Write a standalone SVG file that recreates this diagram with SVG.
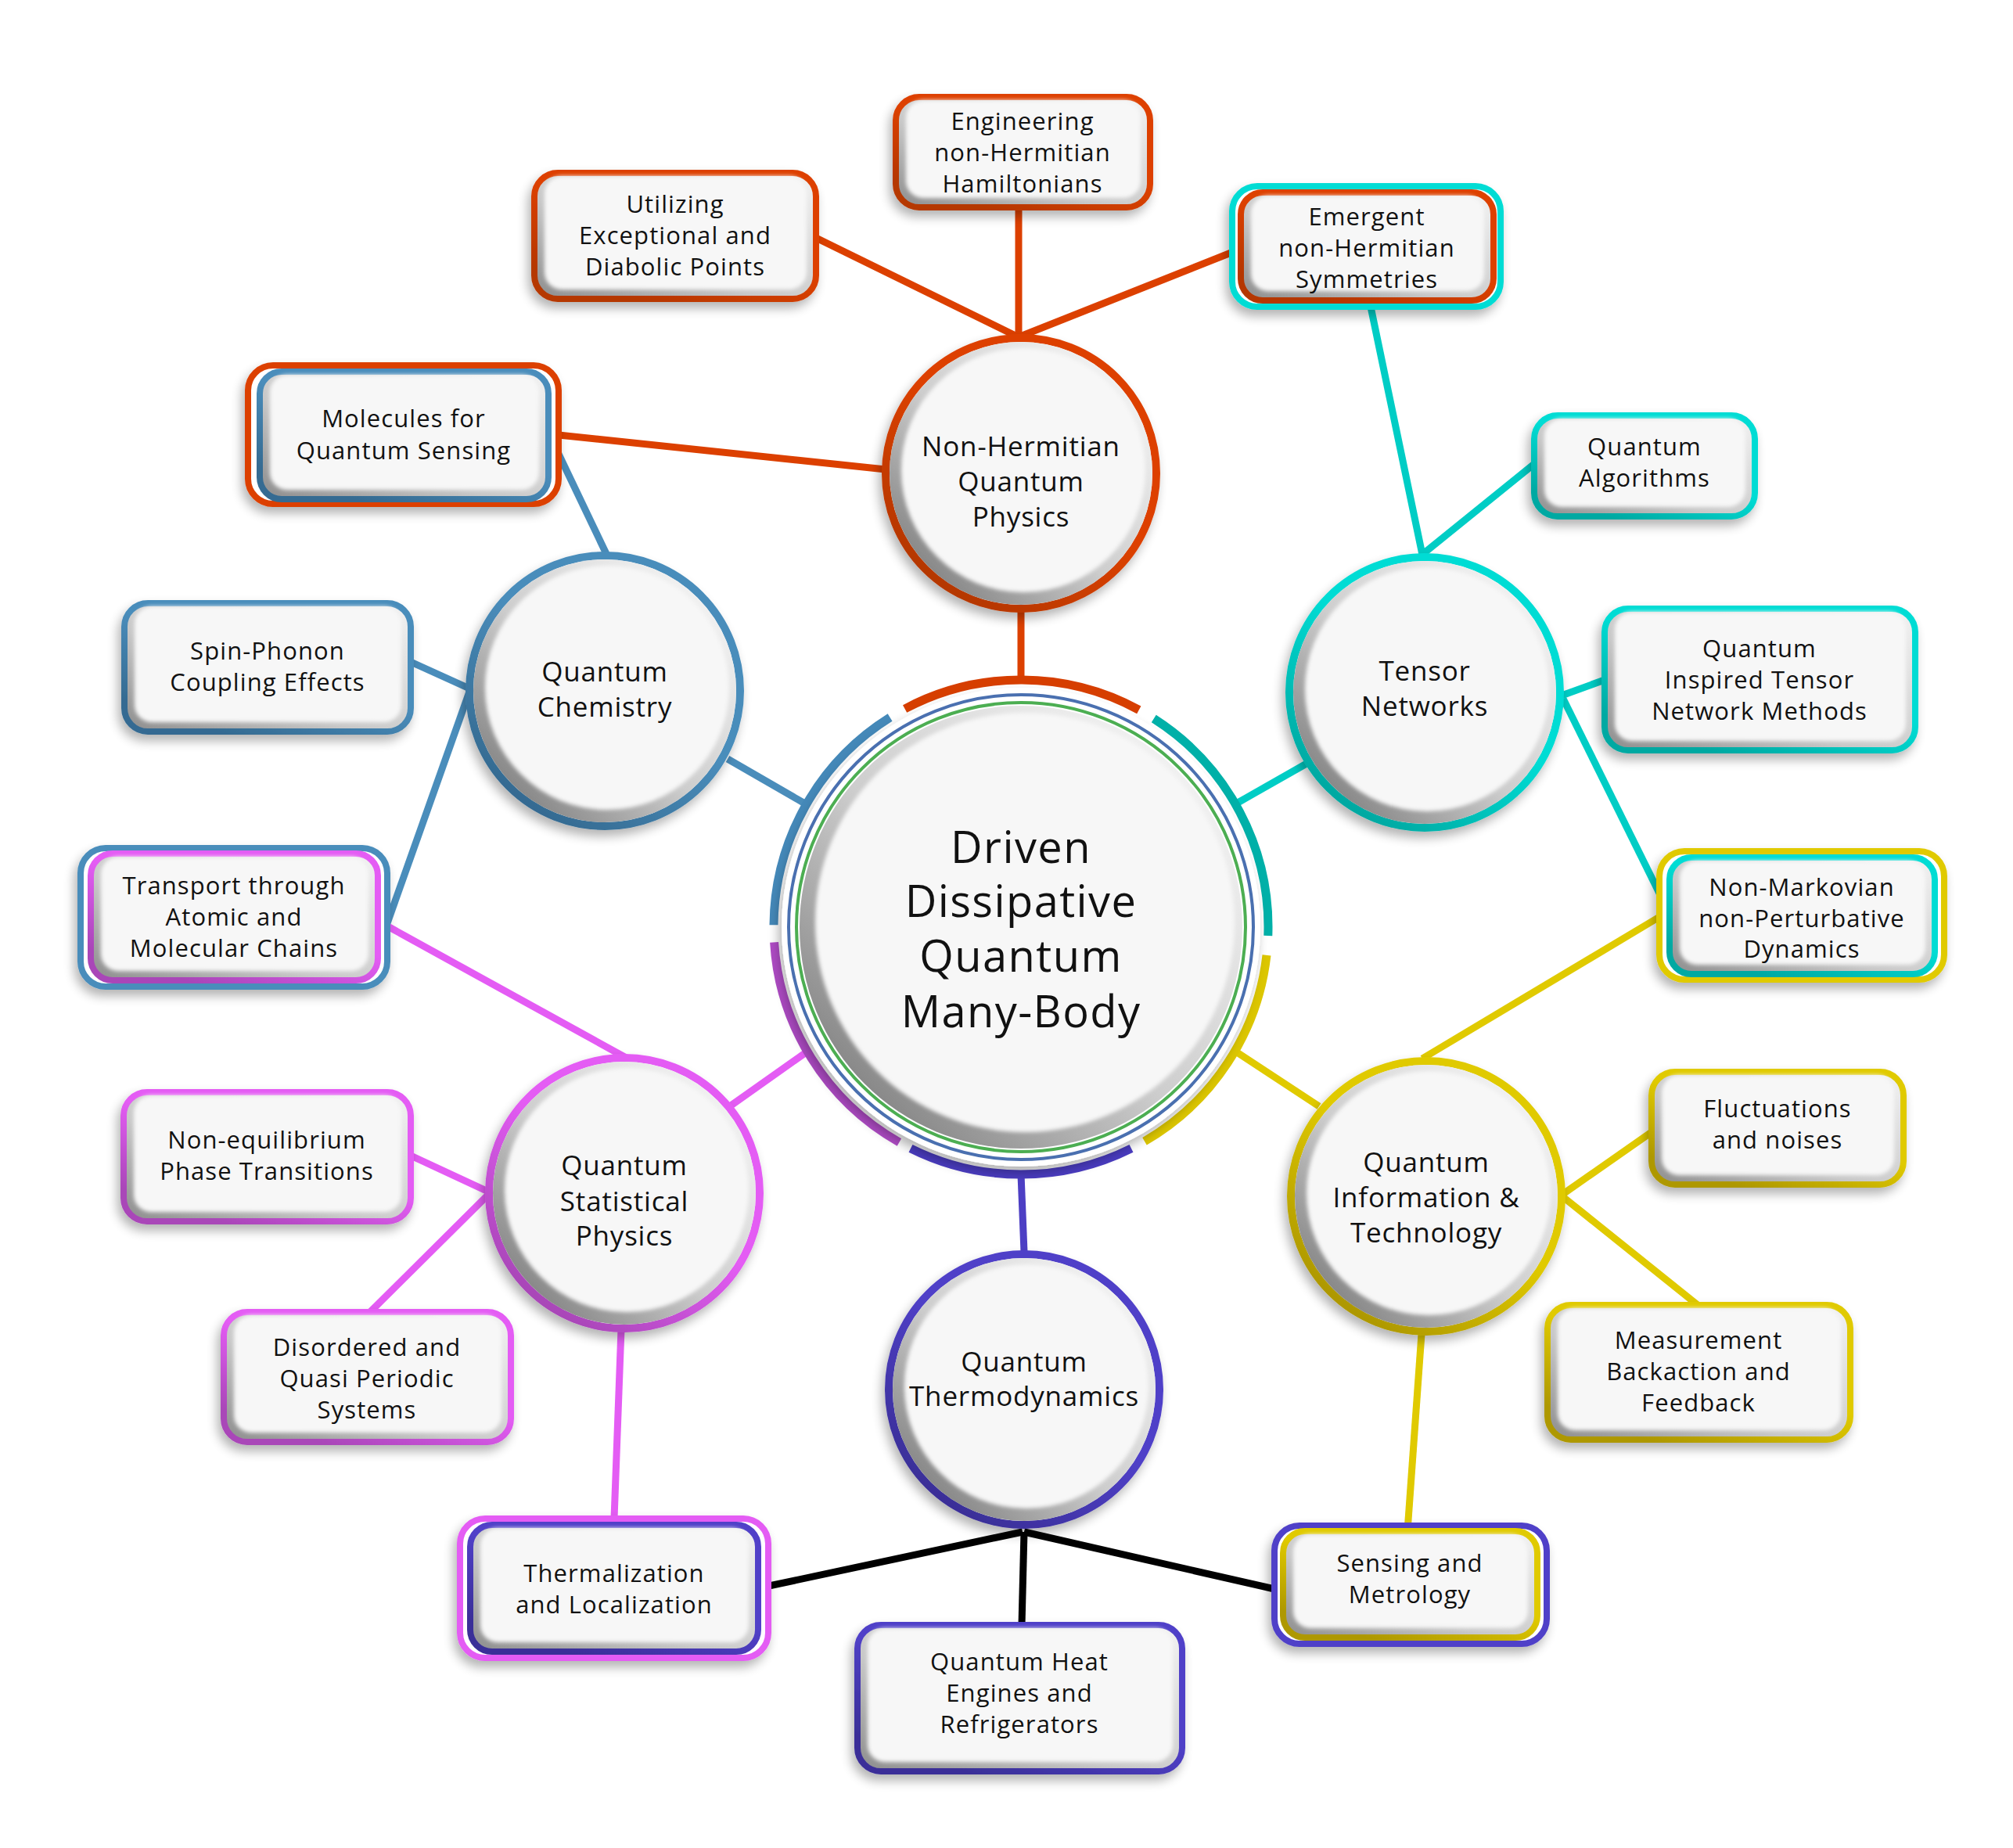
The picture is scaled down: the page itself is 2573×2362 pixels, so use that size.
<svg xmlns="http://www.w3.org/2000/svg" width="2573" height="2362" viewBox="0 0 2573 2362">
<defs>
<style>
.lbl{font-family:"Open Sans","Liberation Sans",sans-serif;font-size:31px;text-anchor:middle;fill:#111;letter-spacing:1.1px}
.clbl{font-size:35px;letter-spacing:0.8px}
.mlbl{font-size:56px;letter-spacing:1.4px}
.box{stroke-width:8}
.outer{stroke-width:8;fill:#fff}
.ring{stroke-width:10;fill:#fff}
.face{fill:#f7f7f7}
.conn line{stroke-width:9;stroke-linecap:butt}
.arc{fill:none;stroke-width:11}
</style>
<filter id="ds" x="-25%" y="-25%" width="150%" height="160%">
<feGaussianBlur in="SourceAlpha" stdDeviation="7"/>
<feOffset dx="-4" dy="8"/>
<feComponentTransfer><feFuncA type="linear" slope="0.3"/></feComponentTransfer>
<feMerge><feMergeNode/><feMergeNode in="SourceGraphic"/></feMerge>
</filter>
<filter id="soft" x="-10%" y="-10%" width="120%" height="120%"><feGaussianBlur stdDeviation="2.5"/></filter>
<linearGradient id="rimR" x1="0" y1="1" x2="1" y2="0"><stop offset="0" stop-color="#8c8c8c"/><stop offset="0.4" stop-color="#c8c8c8"/><stop offset="1" stop-color="#f2f2f2"/></linearGradient>
<linearGradient id="rimC" x1="0.15" y1="0.85" x2="0.85" y2="0.15"><stop offset="0" stop-color="#8a8a8a"/><stop offset="0.45" stop-color="#cdcdcd"/><stop offset="1" stop-color="#f0f0f0"/></linearGradient>
<linearGradient id="gO" x1="0.8" y1="0.1" x2="0.2" y2="0.9"><stop offset="0.45" stop-color="#dd4100"/><stop offset="1" stop-color="#b53700"/></linearGradient>
<linearGradient id="gB" x1="0.8" y1="0.1" x2="0.2" y2="0.9"><stop offset="0.45" stop-color="#4a8dbb"/><stop offset="1" stop-color="#356b92"/></linearGradient>
<linearGradient id="gC" x1="0.8" y1="0.1" x2="0.2" y2="0.9"><stop offset="0.45" stop-color="#00dcd4"/><stop offset="1" stop-color="#00a9a2"/></linearGradient>
<linearGradient id="gY" x1="0.8" y1="0.1" x2="0.2" y2="0.9"><stop offset="0.45" stop-color="#e0ca00"/><stop offset="1" stop-color="#ae9800"/></linearGradient>
<linearGradient id="gI" x1="0.8" y1="0.1" x2="0.2" y2="0.9"><stop offset="0.45" stop-color="#5040c8"/><stop offset="1" stop-color="#3a2f98"/></linearGradient>
<linearGradient id="gM" x1="0.8" y1="0.1" x2="0.2" y2="0.9"><stop offset="0.45" stop-color="#e45cf4"/><stop offset="1" stop-color="#a946b8"/></linearGradient>
<linearGradient id="gP" x1="0" y1="1" x2="1" y2="0"><stop offset="0" stop-color="#9a42b0"/><stop offset="1" stop-color="#c656dc"/></linearGradient>
</defs>
<rect width="2573" height="2362" fill="#fff"/>

<g id="connectors" class="conn">
<line x1="1305" y1="869" x2="1305" y2="778" stroke="#dc4000"/>
<line x1="1302" y1="430" x2="1302" y2="265" stroke="#dc4000"/>
<line x1="1300" y1="430" x2="1043" y2="304" stroke="#dc4000"/>
<line x1="1304" y1="430" x2="1586" y2="318" stroke="#dc4000"/>
<line x1="1132" y1="600" x2="714" y2="556" stroke="#dc4000"/>
<line x1="1027" y1="1026" x2="930" y2="970" stroke="#4a8dbb"/>
<line x1="776" y1="710" x2="701" y2="553" stroke="#4a8dbb"/>
<line x1="600" y1="880" x2="525" y2="846" stroke="#4a8dbb"/>
<line x1="600" y1="884" x2="495" y2="1180" stroke="#4a8dbb"/>
<line x1="1582" y1="1026" x2="1670" y2="976" stroke="#00cdc5"/>
<line x1="1818" y1="709" x2="1752" y2="392" stroke="#00cdc5"/>
<line x1="1820" y1="707" x2="1961" y2="593" stroke="#00cdc5"/>
<line x1="1996" y1="889" x2="2051" y2="869" stroke="#00cdc5"/>
<line x1="1998" y1="893" x2="2134" y2="1168" stroke="#00cdc5"/>
<line x1="1578" y1="1343" x2="1686" y2="1414" stroke="#e0ca00"/>
<line x1="1818" y1="1353" x2="2121" y2="1172" stroke="#e0ca00"/>
<line x1="1998" y1="1526" x2="2111" y2="1447" stroke="#e0ca00"/>
<line x1="1998" y1="1530" x2="2170" y2="1668" stroke="#e0ca00"/>
<line x1="1817" y1="1705" x2="1799" y2="1957" stroke="#e0ca00"/>
<line x1="1029" y1="1346" x2="930" y2="1416" stroke="#e45cf4"/>
<line x1="804" y1="1354" x2="483" y2="1177" stroke="#e45cf4"/>
<line x1="624" y1="1523" x2="525" y2="1477" stroke="#e45cf4"/>
<line x1="624" y1="1527" x2="473" y2="1677" stroke="#e45cf4"/>
<line x1="794" y1="1699" x2="785" y2="1941" stroke="#e45cf4"/>
<line x1="1305" y1="1501" x2="1309" y2="1600" stroke="#4d3fc4"/>
<line x1="1307" y1="1958" x2="969" y2="2030" stroke="#000"/>
<line x1="1309" y1="1958" x2="1306" y2="2077" stroke="#000"/>
<line x1="1309" y1="1958" x2="1629" y2="2031" stroke="#000"/>
</g>

<g id="center">
<path class="arc" stroke="#4488b8" d="M989.0 1182.2 A316 316 0 0 1 1137.6 917.0"/>
<path class="arc" stroke="#d63e00" d="M1156.6 906.0 A316 316 0 0 1 1455.8 907.3"/>
<path class="arc" stroke="#00b0a8" d="M1474.8 918.5 A316 316 0 0 1 1620.8 1196.0"/>
<path class="arc" stroke="#dcc600" d="M1619.0 1220.8 A316 316 0 0 1 1463.0 1458.7"/>
<path class="arc" stroke="#4a3cc0" d="M1446.0 1467.8 A316 316 0 0 1 1164.0 1467.8"/>
<path class="arc" stroke="url(#gP)" d="M1149.4 1460.0 A316 316 0 0 1 989.6 1204.3"/>
<circle cx="1305" cy="1185" r="306" fill="#fff" filter="url(#ds)"/>
<circle cx="1305" cy="1185" r="297" fill="none" stroke="#4a70b0" stroke-width="4"/>
<circle cx="1305" cy="1185" r="287" fill="none" stroke="#4cae52" stroke-width="4"/>
<circle cx="1305" cy="1185" r="283" fill="url(#rimC)"/>
<circle cx="1310" cy="1179" r="268" class="face" filter="url(#soft)"/>
<text class="lbl mlbl" x="1305"><tspan x="1305" y="1103">Driven</tspan><tspan x="1305" y="1172">Dissipative</tspan><tspan x="1305" y="1242">Quantum</tspan><tspan x="1305" y="1313">Many-Body</tspan></text>
</g>

<g id="n-nh">
<circle cx="1305" cy="605" r="173" class="ring" stroke="url(#gO)" filter="url(#ds)"/>
<circle cx="1305" cy="605" r="168" fill="url(#rimC)"/>
<circle cx="1308" cy="601" r="156" class="face" filter="url(#soft)"/>
<text class="lbl clbl"><tspan x="1305" y="583">Non-Hermitian</tspan><tspan x="1305" y="628">Quantum</tspan><tspan x="1305" y="673">Physics</tspan></text>
</g>
<g id="n-qc">
<circle cx="773" cy="883" r="173" class="ring" stroke="url(#gB)" filter="url(#ds)"/>
<circle cx="773" cy="883" r="168" fill="url(#rimC)"/>
<circle cx="776" cy="879" r="156" class="face" filter="url(#soft)"/>
<text class="lbl clbl"><tspan x="773" y="871">Quantum</tspan><tspan x="773" y="916">Chemistry</tspan></text>
</g>
<g id="n-tn">
<circle cx="1821" cy="885" r="173" class="ring" stroke="url(#gC)" filter="url(#ds)"/>
<circle cx="1821" cy="885" r="168" fill="url(#rimC)"/>
<circle cx="1824" cy="881" r="156" class="face" filter="url(#soft)"/>
<text class="lbl clbl"><tspan x="1821" y="870">Tensor</tspan><tspan x="1821" y="915">Networks</tspan></text>
</g>
<g id="n-qsp">
<circle cx="798" cy="1525" r="173" class="ring" stroke="url(#gM)" filter="url(#ds)"/>
<circle cx="798" cy="1525" r="168" fill="url(#rimC)"/>
<circle cx="801" cy="1521" r="156" class="face" filter="url(#soft)"/>
<text class="lbl clbl"><tspan x="798" y="1502">Quantum</tspan><tspan x="798" y="1548">Statistical</tspan><tspan x="798" y="1592">Physics</tspan></text>
</g>
<g id="n-qt">
<circle cx="1309" cy="1776" r="173" class="ring" stroke="url(#gI)" filter="url(#ds)"/>
<circle cx="1309" cy="1776" r="168" fill="url(#rimC)"/>
<circle cx="1312" cy="1772" r="156" class="face" filter="url(#soft)"/>
<text class="lbl clbl"><tspan x="1309" y="1753">Quantum</tspan><tspan x="1309" y="1797">Thermodynamics</tspan></text>
</g>
<g id="n-qit">
<circle cx="1823" cy="1529" r="173" class="ring" stroke="url(#gY)" filter="url(#ds)"/>
<circle cx="1823" cy="1529" r="168" fill="url(#rimC)"/>
<circle cx="1826" cy="1525" r="156" class="face" filter="url(#soft)"/>
<text class="lbl clbl"><tspan x="1823" y="1498">Quantum</tspan><tspan x="1823" y="1543">Information &amp;</tspan><tspan x="1823" y="1588">Technology</tspan></text>
</g>

<g id="n-eng">
<rect x="1145" y="124" width="325" height="141" rx="30" class="box" stroke="url(#gO)" fill="url(#rimR)" filter="url(#ds)"/>
<rect x="1158" y="128" width="300" height="125" rx="22" class="face" filter="url(#soft)"/>
<text class="lbl"><tspan x="1307" y="166">Engineering</tspan><tspan x="1307" y="206">non-Hermitian</tspan><tspan x="1307" y="246">Hamiltonians</tspan></text>
</g>
<g id="n-util">
<rect x="683" y="221" width="360" height="161" rx="30" class="box" stroke="url(#gO)" fill="url(#rimR)" filter="url(#ds)"/>
<rect x="696" y="225" width="335" height="145" rx="22" class="face" filter="url(#soft)"/>
<text class="lbl"><tspan x="863" y="272">Utilizing</tspan><tspan x="863" y="312">Exceptional and</tspan><tspan x="863" y="352">Diabolic Points</tspan></text>
</g>
<g id="n-emerg">
<rect x="1575" y="238" width="343" height="154" rx="32" class="outer" stroke="#00dcd4" filter="url(#ds)"/>
<rect x="1586" y="246" width="323" height="138" rx="28" class="box" stroke="url(#gO)" fill="url(#rimR)"/>
<rect x="1599" y="250" width="298" height="122" rx="22" class="face" filter="url(#soft)"/>
<text class="lbl"><tspan x="1747" y="288">Emergent</tspan><tspan x="1747" y="328">non-Hermitian</tspan><tspan x="1747" y="368">Symmetries</tspan></text>
</g>
<g id="n-mol">
<rect x="317" y="467" width="397" height="177" rx="32" class="outer" stroke="#dc4000" filter="url(#ds)"/>
<rect x="332" y="475" width="369" height="163" rx="28" class="box" stroke="url(#gB)" fill="url(#rimR)"/>
<rect x="345" y="479" width="344" height="147" rx="22" class="face" filter="url(#soft)"/>
<text class="lbl"><tspan x="516" y="546">Molecules for</tspan><tspan x="516" y="587">Quantum Sensing</tspan></text>
</g>
<g id="n-qalg">
<rect x="1961" y="531" width="282" height="129" rx="30" class="box" stroke="url(#gC)" fill="url(#rimR)" filter="url(#ds)"/>
<rect x="1974" y="535" width="257" height="113" rx="22" class="face" filter="url(#soft)"/>
<text class="lbl"><tspan x="2102" y="582">Quantum</tspan><tspan x="2102" y="622">Algorithms</tspan></text>
</g>
<g id="n-spin">
<rect x="159" y="771" width="366" height="164" rx="30" class="box" stroke="url(#gB)" fill="url(#rimR)" filter="url(#ds)"/>
<rect x="172" y="775" width="341" height="148" rx="22" class="face" filter="url(#soft)"/>
<text class="lbl"><tspan x="342" y="843">Spin-Phonon</tspan><tspan x="342" y="883">Coupling Effects</tspan></text>
</g>
<g id="n-qitn">
<rect x="2051" y="778" width="397" height="181" rx="30" class="box" stroke="url(#gC)" fill="url(#rimR)" filter="url(#ds)"/>
<rect x="2064" y="782" width="372" height="165" rx="22" class="face" filter="url(#soft)"/>
<text class="lbl"><tspan x="2249" y="840">Quantum</tspan><tspan x="2249" y="880">Inspired Tensor</tspan><tspan x="2249" y="920">Network Methods</tspan></text>
</g>
<g id="n-transport">
<rect x="103" y="1084" width="392" height="177" rx="32" class="outer" stroke="#4a8dbb" filter="url(#ds)"/>
<rect x="116" y="1091" width="367" height="162" rx="28" class="box" stroke="url(#gM)" fill="url(#rimR)"/>
<rect x="129" y="1095" width="342" height="146" rx="22" class="face" filter="url(#soft)"/>
<text class="lbl"><tspan x="299" y="1143">Transport through</tspan><tspan x="299" y="1183">Atomic and</tspan><tspan x="299" y="1223">Molecular Chains</tspan></text>
</g>
<g id="n-nonmark">
<rect x="2121" y="1088" width="364" height="164" rx="32" class="outer" stroke="#e0ca00" filter="url(#ds)"/>
<rect x="2134" y="1096" width="339" height="149" rx="28" class="box" stroke="url(#gC)" fill="url(#rimR)"/>
<rect x="2147" y="1100" width="314" height="133" rx="22" class="face" filter="url(#soft)"/>
<text class="lbl"><tspan x="2303" y="1145">Non-Markovian</tspan><tspan x="2303" y="1185">non-Perturbative</tspan><tspan x="2303" y="1224">Dynamics</tspan></text>
</g>
<g id="n-fluct">
<rect x="2111" y="1370" width="322" height="144" rx="30" class="box" stroke="url(#gY)" fill="url(#rimR)" filter="url(#ds)"/>
<rect x="2124" y="1374" width="297" height="128" rx="22" class="face" filter="url(#soft)"/>
<text class="lbl"><tspan x="2272" y="1428">Fluctuations</tspan><tspan x="2272" y="1468">and noises</tspan></text>
</g>
<g id="n-noneq">
<rect x="158" y="1396" width="367" height="165" rx="30" class="box" stroke="url(#gM)" fill="url(#rimR)" filter="url(#ds)"/>
<rect x="171" y="1400" width="342" height="149" rx="22" class="face" filter="url(#soft)"/>
<text class="lbl"><tspan x="341" y="1468">Non-equilibrium</tspan><tspan x="341" y="1508">Phase Transitions</tspan></text>
</g>
<g id="n-disord">
<rect x="286" y="1677" width="367" height="166" rx="30" class="box" stroke="url(#gM)" fill="url(#rimR)" filter="url(#ds)"/>
<rect x="299" y="1681" width="342" height="150" rx="22" class="face" filter="url(#soft)"/>
<text class="lbl"><tspan x="469" y="1733">Disordered and</tspan><tspan x="469" y="1773">Quasi Periodic</tspan><tspan x="469" y="1813">Systems</tspan></text>
</g>
<g id="n-meas">
<rect x="1978" y="1668" width="387" height="172" rx="30" class="box" stroke="url(#gY)" fill="url(#rimR)" filter="url(#ds)"/>
<rect x="1991" y="1672" width="362" height="156" rx="22" class="face" filter="url(#soft)"/>
<text class="lbl"><tspan x="2171" y="1724">Measurement</tspan><tspan x="2171" y="1764">Backaction and</tspan><tspan x="2171" y="1804">Feedback</tspan></text>
</g>
<g id="n-therm">
<rect x="588" y="1941" width="394" height="178" rx="32" class="outer" stroke="#e45cf4" filter="url(#ds)"/>
<rect x="601" y="1949" width="368" height="162" rx="28" class="box" stroke="url(#gI)" fill="url(#rimR)"/>
<rect x="614" y="1953" width="343" height="146" rx="22" class="face" filter="url(#soft)"/>
<text class="lbl"><tspan x="785" y="2022">Thermalization</tspan><tspan x="785" y="2062">and Localization</tspan></text>
</g>
<g id="n-qhe">
<rect x="1096" y="2077" width="415" height="187" rx="30" class="box" stroke="url(#gI)" fill="url(#rimR)" filter="url(#ds)"/>
<rect x="1109" y="2081" width="390" height="171" rx="22" class="face" filter="url(#soft)"/>
<text class="lbl"><tspan x="1303" y="2135">Quantum Heat</tspan><tspan x="1303" y="2175">Engines and</tspan><tspan x="1303" y="2215">Refrigerators</tspan></text>
</g>
<g id="n-sens">
<rect x="1629" y="1950" width="348" height="151" rx="32" class="outer" stroke="#5040c8" filter="url(#ds)"/>
<rect x="1640" y="1957" width="325" height="136" rx="28" class="box" stroke="url(#gY)" fill="url(#rimR)"/>
<rect x="1653" y="1961" width="300" height="120" rx="22" class="face" filter="url(#soft)"/>
<text class="lbl"><tspan x="1802" y="2009">Sensing and</tspan><tspan x="1802" y="2049">Metrology</tspan></text>
</g>
</svg>
